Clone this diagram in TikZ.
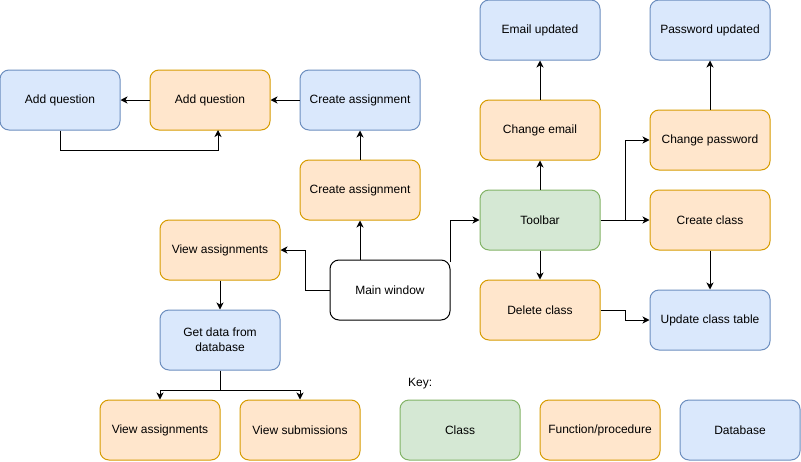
\documentclass[tikz,border=0pt]{standalone}
\usepackage{fontspec}
\setmainfont{Liberation Sans}
\usetikzlibrary{arrows.meta}
\definecolor{bfill}{HTML}{DAE8FC}\definecolor{bdraw}{HTML}{6C8EBF}
\definecolor{ofill}{HTML}{FFE6CC}\definecolor{odraw}{HTML}{D79B00}
\definecolor{gfill}{HTML}{D5E8D4}\definecolor{gdraw}{HTML}{82B366}
\tikzset{
  boxbase/.style={rectangle, rounded corners=9pt, minimum width=120pt, minimum height=60pt, inner sep=0pt, line width=1pt, align=center, font=\fontsize{12}{15}\selectfont},
  dbbox/.style={boxbase, fill=bfill, draw=bdraw},
  fnbox/.style={boxbase, fill=ofill, draw=odraw},
  clbox/.style={boxbase, fill=gfill, draw=gdraw},
  mainbox/.style={boxbase, fill=white, draw=black},
  conn/.style={draw=black, line width=1pt, -{Stealth[length=7pt,width=7pt,inset=2pt]}},
}
\begin{document}
\begin{tikzpicture}[x=1pt,y=-1pt]
\useasboundingbox (0,0) rectangle (801,461);
% row top
\node[dbbox] (aqb) at (60,100) {Add question};
\node[fnbox] (aqo) at (210,100) {Add question};
\node[dbbox] (cab) at (360,100) {Create assignment};
\node[fnbox] (cao) at (360,190) {Create assignment};
\node[fnbox] (va1) at (220,250) {View assignments};
\node[mainbox] (mw) at (390,290) {Main window};
\node[dbbox] (gd) at (220,340) {Get data from\\database};
\node[fnbox] (va2) at (160,430) {View assignments};
\node[fnbox] (vs) at (300,430) {View submissions};
\node[dbbox] (eu) at (540,30) {Email updated};
\node[fnbox] (ce) at (540,130) {Change email};
\node[clbox] (tb) at (540,220) {Toolbar};
\node[fnbox] (dc) at (540,310) {Delete class};
\node[dbbox] (pu) at (710,30) {Password updated};
\node[fnbox] (cp) at (710,140) {Change password};
\node[fnbox] (cc) at (710,220) {Create class};
\node[dbbox] (uct) at (710,320) {Update class table};
\node[font=\fontsize{12}{15}\selectfont, anchor=west, inner sep=0pt] (key) at (408,384) {Key:};
\node[clbox] (kc) at (460,430) {Class};
\node[fnbox] (kf) at (600,430) {Function/procedure};
\node[dbbox] (kd) at (740,430) {Database};
% connectors
\draw[conn] (aqo) -- (aqb);
\draw[conn] (cab) -- (aqo);
\coordinate (aqloop) at (218,130);
\draw[conn] (aqb.south) -- (60,150) -- (218,150) -- (aqloop);
\draw[conn] (cao) -- (cab);
\draw[conn] (mw.north -| cao) -- (cao);
\draw[conn] (mw.west) -- (305,290) -- (305,250) -- (va1.east);
\coordinate (mwne) at (450,262);
\draw[conn] (mwne) -- (450,220) -- (tb.west);
\draw[conn] (va1) -- (gd);
\draw[conn] (gd.south) -- (220,390) -- (160,390) -- (va2.north);
\draw[conn] (220,390) -- (300,390) -- (vs.north);
\draw[conn] (tb) -- (ce);
\draw[conn] (ce) -- (eu);
\draw[conn] (tb) -- (cc);
\draw[conn] (625,220) -- (625,140) -- (cp.west);
\draw[conn] (tb) -- (dc);
\draw[conn] (dc.east) -- (625,310) -- (625,320) -- (uct.west);
\draw[conn] (cc) -- (uct);
\draw[conn] (cp) -- (pu);
\end{tikzpicture}
\end{document}
